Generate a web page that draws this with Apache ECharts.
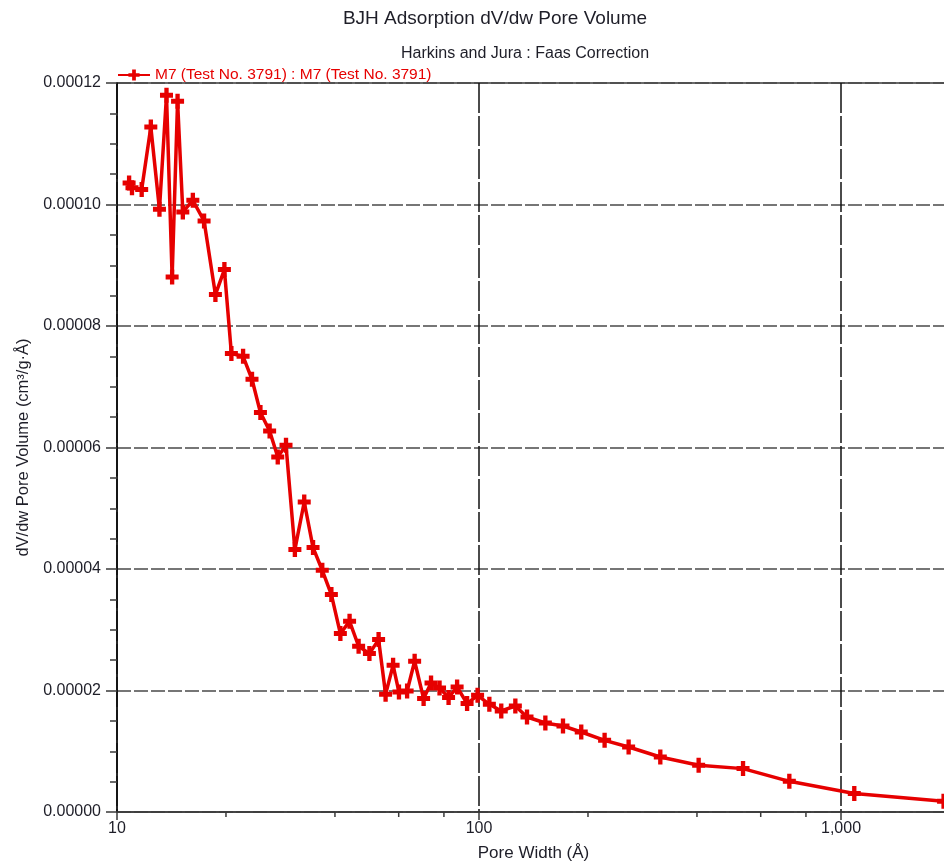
<!DOCTYPE html>
<html>
<head>
<meta charset="utf-8">
<title>BJH Adsorption dV/dw Pore Volume</title>
<script src="https://cdn.jsdelivr.net/npm/echarts@6/dist/echarts.min.js"></script>
<style>
  html, body { margin: 0; padding: 0; background: #ffffff; }
  #chart { width: 944px; height: 868px; }
</style>
</head>
<body>
<div id="chart"></div>
<script>
// Pore width (Å) of each measured point
const poreWidth = [
  10.8, 11.0, 11.7, 12.4, 13.1, 13.7, 14.2, 14.7, 15.2, 16.2,
  17.4, 18.7, 19.8, 20.7, 22.3, 23.6, 24.9, 26.4, 27.8, 29.3,
  31.0, 32.9, 34.8, 36.9, 39.1, 41.4, 43.9, 46.5, 49.8, 52.8,
  55.2, 57.9, 60.1, 63.3, 66.4, 70.3, 73.7, 77.8, 82.4, 87.0,
  92.7, 99.1, 106.8, 115.2, 126.0, 135.7, 152.5, 170.6, 191.6, 222.3,
  259.0, 316.8, 404.3, 536.2, 719.8, 1088, 1920
];

// dV/dw pore volume (cm³/g·Å) at each pore width
const poreVolume = [
  1.0354e-4, 1.0275e-4, 1.0245e-4, 1.1276e-4, 9.921e-5, 1.1798e-4, 8.807e-5, 1.1699e-4, 9.877e-5, 1.0069e-4,
  9.728e-5, 8.517e-5, 8.928e-5, 7.546e-5, 7.501e-5, 7.123e-5, 6.575e-5, 6.272e-5, 5.844e-5, 6.036e-5,
  4.319e-5, 5.103e-5, 4.352e-5, 3.979e-5, 3.579e-5, 2.937e-5, 3.139e-5, 2.728e-5, 2.607e-5, 2.838e-5,
  1.937e-5, 2.415e-5, 1.975e-5, 1.992e-5, 2.481e-5, 1.867e-5, 2.123e-5, 2.041e-5, 1.883e-5, 2.058e-5,
  1.784e-5, 1.921e-5, 1.773e-5, 1.663e-5, 1.745e-5, 1.564e-5, 1.465e-5, 1.416e-5, 1.317e-5, 1.180e-5,
  1.070e-5, 9.05e-6, 7.69e-6, 7.14e-6, 5.05e-6, 3.03e-6, 1.76e-6
];

// Minor tick positions on the logarithmic pore-width axis
const xMinorTicks = [20, 40, 60, 80, 200, 400, 600, 800];

const seriesName = 'M7 (Test No. 3791) : M7 (Test No. 3791)';
const titleText = 'BJH Adsorption dV/dw Pore Volume';
const subtitleText = 'Harkins and Jura : Faas Correction';
const xAxisName = 'Pore Width (Å)';
const yAxisName = 'dV/dw Pore Volume (cm³/g·Å)';

const FONT = '"Liberation Sans", Arial, sans-serif';
const RED = '#e60000';
const INK = '#1e1e28';
// bold plus-shaped marker
const PLUS = 'path://M4,0 h4 v4 h4 v4 h-4 v4 h-4 v-4 h-4 v-4 h4 z';

const chart = echarts.init(document.getElementById('chart'), null, { renderer: 'canvas' });

chart.setOption({
  animation: false,
  backgroundColor: '#ffffff',
  textStyle: { fontFamily: FONT },
  title: [
    {
      text: titleText,
      left: 490, top: 4, textAlign: 'center',
      textStyle: { fontFamily: FONT, fontSize: 19, fontWeight: 'normal', color: INK }
    },
    {
      text: subtitleText,
      left: 520, top: 41, textAlign: 'center',
      textStyle: { fontFamily: FONT, fontSize: 16, fontWeight: 'normal', color: INK }
    }
  ],
  legend: {
    left: 112, top: 62,
    itemWidth: 32, itemHeight: 14, itemGap: 5,
    data: [seriesName],
    textStyle: { fontFamily: FONT, fontSize: 15.5, color: RED }
  },
  grid: {
    left: 117, top: 83, right: -6, bottom: 56,
    outerBoundsMode: 'none',
    containLabel: false,
    show: true, borderColor: '#3a3a3a', borderWidth: 1.5, backgroundColor: 'transparent'
  },
  xAxis: {
    type: 'log', logBase: 10, min: 10, max: 2000,
    name: xAxisName, nameLocation: 'middle', nameGap: 33,
    nameTextStyle: { fontFamily: FONT, fontSize: 17, color: INK },
    axisLine: { show: true, lineStyle: { color: '#3a3a3a', width: 1.5 } },
    axisTick: { show: true, length: 8, lineStyle: { color: '#3a3a3a', width: 1.5 } },
    axisLabel: {
      fontFamily: FONT, fontSize: 16, color: INK, margin: 9,
      showMaxLabel: false,
      formatter: v => Number(v).toLocaleString('en-US')
    },
    splitLine: { show: true, lineStyle: { color: '#111', width: 1.5, type: [30, 3] } },
    minorTick: { show: false },
    minorSplitLine: { show: false }
  },
  yAxis: {
    type: 'value', min: 0, max: 0.00012, interval: 0.00002,
    name: yAxisName, nameLocation: 'middle', nameGap: 84, nameRotate: 90,
    nameTextStyle: { fontFamily: FONT, fontSize: 16.5, color: INK },
    axisLine: { show: true, lineStyle: { color: '#111', width: 1.5 } },
    axisTick: { show: true, length: 11, lineStyle: { color: '#3a3a3a', width: 1.5 } },
    minorTick: { show: true, splitNumber: 4, length: 7, lineStyle: { color: '#3a3a3a', width: 1.5 } },
    axisLabel: {
      fontFamily: FONT, fontSize: 16, color: INK, margin: 16,
      formatter: v => v.toFixed(5)
    },
    splitLine: { show: true, lineStyle: { color: '#4a4a4a', width: 1.5, type: [14, 3] } }
  },
  series: [
    {
      name: seriesName,
      type: 'line',
      data: poreWidth.map((w, i) => [w, poreVolume[i]]),
      symbol: PLUS,
      symbolSize: [13, 15],
      symbolKeepAspect: false,
      showSymbol: true,
      showAllSymbol: true,
      clip: false,
      itemStyle: { color: RED, borderWidth: 0 },
      lineStyle: { color: RED, width: 3.5 },
      emphasis: { disabled: true },
      z: 5
    },
    {
      name: 'x-minor-ticks',
      type: 'custom',
      silent: true,
      clip: false,
      data: xMinorTicks.map(v => [v, 0]),
      renderItem: (params, api) => {
        const p = api.coord([api.value(0), 0]);
        return {
          type: 'line',
          shape: { x1: p[0], y1: p[1], x2: p[0], y2: p[1] + 5 },
          style: { stroke: '#3a3a3a', lineWidth: 1.5 }
        };
      },
      z: 3
    }
  ]
});
</script>
</body>
</html>
